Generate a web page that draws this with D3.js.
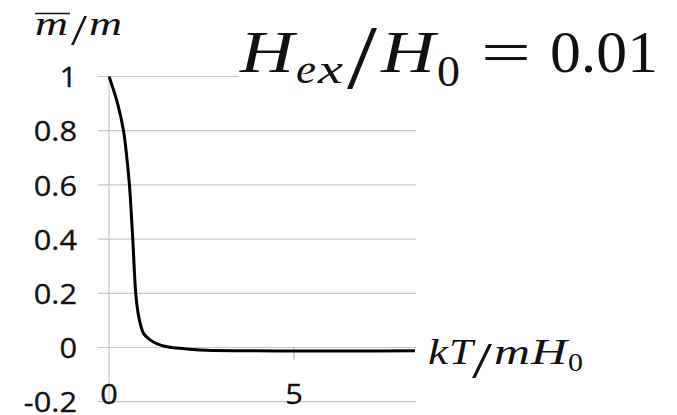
<!DOCTYPE html>
<html>
<head>
<meta charset="utf-8">
<script src="https://cdn.jsdelivr.net/npm/d3@7"></script>
<style>
  html, body { margin: 0; padding: 0; background: #fff; }
  svg { display: block; }
</style>
</head>
<body>
<svg id="chart" width="677" height="415"></svg>
<script>
// Reduced magnetisation versus reduced temperature
const tempValues = [0, 0.23, 0.39, 0.48, 0.55, 0.64, 0.72, 0.78, 0.84, 0.93, 1.11, 1.3, 1.56, 2.0, 2.46, 3.54, 5, 6.5, 8.27];
const magValues  = [1, 0.9, 0.8, 0.7, 0.6, 0.4, 0.2, 0.13, 0.09, 0.052, 0.028, 0.013, 0.003, -0.004, -0.009, -0.012, -0.013, -0.013, -0.012];
const yTicks = [-0.2, 0, 0.2, 0.4, 0.6, 0.8, 1];
const yTickLabels = ["-0.2", "0", "0.2", "0.4", "0.6", "0.8", "1"];
const xTicks = [0, 5];
const xTickLabels = ["0", "5"];

const svg = d3.select("#chart");

const x = d3.scaleLinear().domain([-0.3, 8.3]).range([98, 416]);
const y = d3.scaleLinear().domain([-0.2, 1]).range([401.7, 76.5]);

const gridColor = "#c6c6c6";
const serif = "'Liberation Serif', 'DejaVu Serif', serif";
const sans = "'Open Sans', 'Liberation Sans', sans-serif";

// horizontal gridlines
svg.append("g").selectAll("line")
  .data(yTicks)
  .join("line")
  .attr("x1", x.range()[0]).attr("x2", x.range()[1])
  .attr("y1", d => y(d)).attr("y2", d => y(d))
  .attr("stroke", gridColor).attr("stroke-width", 1.2);

// vertical axis at x = 0
svg.append("line")
  .attr("x1", x(0)).attr("x2", x(0))
  .attr("y1", y(1)).attr("y2", y(-0.2))
  .attr("stroke", gridColor).attr("stroke-width", 1.2);

// tick marks on the horizontal axis
svg.append("g").selectAll("line")
  .data(xTicks.filter(d => d !== 0))
  .join("line")
  .attr("x1", d => x(d)).attr("x2", d => x(d))
  .attr("y1", y(0)).attr("y2", y(0) + 12)
  .attr("stroke", "#b0b0b0").attr("stroke-width", 1.2);

// y tick labels
svg.append("g").selectAll("text")
  .data(yTicks)
  .join("text")
  .attr("transform", d => `translate(77,${y(d)}) scale(1.14,1)`)
  .attr("text-anchor", "end")
  .attr("dominant-baseline", "central")
  .attr("font-family", sans)
  .attr("font-size", 27)
  .attr("fill", "#111")
  .attr("stroke", "#111").attr("stroke-width", 0.3)
  .text((d, i) => yTickLabels[i]);

// x tick labels
svg.append("g").selectAll("text")
  .data(xTicks)
  .join("text")
  .attr("transform", d => `translate(${x(d)},393) scale(1.14,1)`)
  .attr("text-anchor", "middle")
  .attr("dominant-baseline", "central")
  .attr("font-family", sans)
  .attr("font-size", 27)
  .attr("fill", "#111")
  .attr("stroke", "#111").attr("stroke-width", 0.3)
  .text((d, i) => xTickLabels[i]);

// the curve
const line = d3.line()
  .x(d => x(d[0]))
  .y(d => y(d[1]))
  .curve(d3.curveCatmullRom.alpha(0.5));

svg.append("path")
  .datum(tempValues.map((t, i) => [t, magValues[i]]))
  .attr("d", line)
  .attr("fill", "none")
  .attr("stroke", "#000")
  .attr("stroke-width", 3)
  .attr("stroke-linejoin", "round");

// helper for formula pieces
function piece(g, txt, px, py, size, italic, len) {
  const t = g.append("text")
    .attr("x", px).attr("y", py)
    .attr("font-family", serif)
    .attr("font-size", size)
    .attr("font-style", italic ? "italic" : "normal")
    .attr("fill", "#111")
    .text(txt);
  if (len) t.attr("textLength", len).attr("lengthAdjust", "spacingAndGlyphs");
  return t;
}

// title: H_ex / H_0 = 0.01
const title = svg.append("g");
title.append("rect").attr("x", 239).attr("y", 20).attr("width", 438).attr("height", 75).attr("fill", "#fff");
piece(title, "H", 240, 72, 60, true, 54);
piece(title, "e", 296, 83, 42, true, 20);
piece(title, "x", 318, 83, 42, true, 25);
piece(title, "/", 347, 88, 90, false, 30);
piece(title, "H", 381, 72, 60, true, 54);
piece(title, "0", 437, 86, 44, false, 23);
piece(title, "=", 481, 72, 60, false, 50);
piece(title, "0.01", 550, 72, 60, false, 108);

// y axis label: m-bar / m
const yLab = svg.append("g");
piece(yLab, "m", 35, 35, 34, true, 33);
yLab.append("line").attr("x1", 35).attr("x2", 70).attr("y1", 13.5).attr("y2", 13.5)
  .attr("stroke", "#111").attr("stroke-width", 1.6);
piece(yLab, "/", 71, 45, 44, false, 16);
piece(yLab, "m", 89, 35, 34, true, 33);

// x axis label: kT / mH_0
const xLab = svg.append("g");
piece(xLab, "k", 428, 364, 35, true, 20);
piece(xLab, "T", 449, 364, 35, true, 24);
piece(xLab, "/", 472, 377, 51, false, 20);
piece(xLab, "m", 494, 364, 35, true, 36);
piece(xLab, "H", 531, 364, 35, true, 36);
piece(xLab, "0", 568, 371, 25, false, 15);
</script>
</body>
</html>
